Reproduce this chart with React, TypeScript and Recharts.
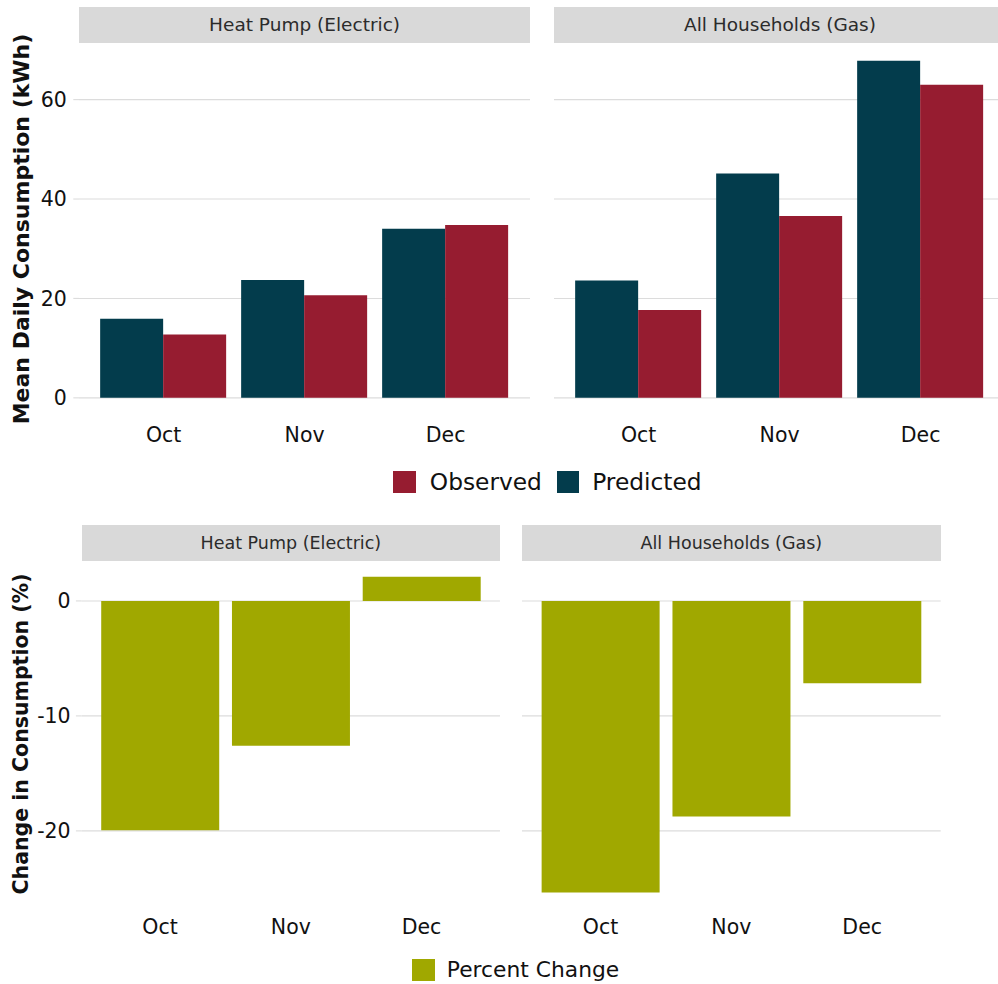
import { BarChart, Bar, XAxis, YAxis, CartesianGrid } from "recharts";

const months = ["Oct", "Nov", "Dec"];
const facets = ["Heat Pump (Electric)", "All Households (Gas)"];

const hpPredicted = [15.9, 23.7, 34.0];
const hpObserved = [12.75, 20.65, 34.75];
const gasPredicted = [23.6, 45.15, 67.8];
const gasObserved = [17.65, 36.6, 63.0];

const hpChange = [-19.95, -12.6, 2.1];
const gasChange = [-25.35, -18.75, -7.15];

const topTicks = [0, 20, 40, 60];
const bottomTicks = [-20, -10, 0];

const PRED = "#033c4c";
const OBS = "#961c30";
const PCT = "#a0a800";
const GRID = "#dcdcdc";
const STRIP = "#d9d9d9";
const FONT = "'DejaVu Sans', sans-serif";

// ggplot-like 5% expansion, bars always include 0
const expand = (vals: number[]): [number, number] => {
  const lo = Math.min(0, ...vals);
  const hi = Math.max(0, ...vals);
  const pad = (hi - lo) * 0.05;
  return [lo - pad, hi + pad];
};

const topDomain = expand([...hpPredicted, ...hpObserved, ...gasPredicted, ...gasObserved]);
const bottomDomain = expand([...hpChange, ...gasChange]);

const consumptionRows = (pred: number[], obs: number[]) =>
  months.map((m, i) => ({ month: m, Predicted: pred[i], Observed: obs[i] }));
const changeRows = (vals: number[]) => months.map((m, i) => ({ month: m, change: vals[i] }));

interface FacetProps {
  left: number;
  top: number;
  panelW: number;
  panelH: number;
  axisW: number;
  showY: boolean;
  domain: [number, number];
  ticks: number[];
  tickMargin: number;
  xMargin: number;
  data: any[];
  keys: { key: string; color: string }[];
}

const Facet = ({ left, top, panelW, panelH, axisW, showY, domain, ticks, tickMargin, xMargin, data, keys }: FacetProps) => {
  const unit = panelW / 3.2;
  const pad = unit * 0.1;
  return (
    <div style={{ position: "absolute", left, top }}>
      <BarChart
        width={panelW + (showY ? axisW : 0)}
        height={panelH + 44}
        data={data}
        margin={{ top: 0, right: 0, bottom: 0, left: 0 }}
        barGap={0}
        barCategoryGap="5%"
      >
        <CartesianGrid vertical={false} syncWithTicks stroke={GRID} strokeWidth={1.1} />
        <XAxis
          dataKey="month"
          interval={0}
          axisLine={false}
          tickLine={false}
          tickSize={6}
          tickMargin={xMargin}
          height={44}
          padding={{ left: pad, right: pad }}
          tick={{ fontSize: 20.5, fill: "#111", fontFamily: FONT }}
        />
        <YAxis
          type="number"
          hide={!showY}
          width={axisW}
          domain={domain}
          allowDataOverflow
          ticks={ticks}
          axisLine={false}
          tickLine={{ stroke: GRID, strokeWidth: 1.1 }}
          tickSize={5.7}
          tickMargin={tickMargin}
          tick={{ fontSize: 20.5, fill: "#111", fontFamily: FONT }}
        />
        {keys.map((k) => (
          <Bar key={k.key} dataKey={k.key} fill={k.color} isAnimationActive={false} />
        ))}
      </BarChart>
    </div>
  );
};

const Strip = ({ left, top, width, height, label, size }: { left: number; top: number; width: number; height: number; label: string; size: number }) => (
  <div
    style={{
      position: "absolute",
      left,
      top,
      width,
      height,
      background: STRIP,
      color: "#2b2b2b",
      fontFamily: FONT,
      fontSize: size,
      display: "flex",
      alignItems: "center",
      justifyContent: "center",
      whiteSpace: "nowrap",
    }}
  >
    {label}
  </div>
);

const LegendItem = ({ left, top, color, label, size, gap }: { left: number; top: number; color: string; label: string; size: number; gap: number }) => (
  <div style={{ position: "absolute", left, top, display: "flex", alignItems: "center", fontFamily: FONT, fontSize: size, color: "#111", whiteSpace: "nowrap" }}>
    <div style={{ width: 22.5, height: 22.5, background: color, marginRight: gap }} />
    <span>{label}</span>
  </div>
);

const consumptionKeys = [
  { key: "Predicted", color: PRED },
  { key: "Observed", color: OBS },
];
const changeKeys = [{ key: "change", color: PCT }];

export default function App() {
  return (
    <div style={{ position: "absolute", left: 0, top: 0, width: 998, height: 984, overflow: "hidden", background: "#fff" }}>
      <svg width={998} height={984} style={{ position: "absolute", left: 0, top: 0 }}>
        <text transform="translate(29,229) rotate(-90)" textAnchor="middle" fontFamily={FONT} fontWeight="bold" fontSize={22} fill="#111">
          Mean Daily Consumption (kWh)
        </text>
        <text transform="translate(28,734) rotate(-90)" textAnchor="middle" fontFamily={FONT} fontWeight="bold" fontSize={20.5} fill="#111">
          Change in Consumption (%)
        </text>
      </svg>

      <Strip left={79} top={6.7} width={451.2} height={36.6} label={facets[0]} size={18.5} />
      <Strip left={554.4} top={6.7} width={451.2} height={36.6} label={facets[1]} size={18.5} />

      <Facet left={0} top={43.8} panelW={451.2} panelH={370.7} axisW={79} showY domain={topDomain} ticks={topTicks} tickMargin={6.5} xMargin={7} data={consumptionRows(hpPredicted, hpObserved)} keys={consumptionKeys} />
      <Facet left={554.4} top={43.8} panelW={451.2} panelH={370.7} axisW={0} showY={false} domain={topDomain} ticks={topTicks} tickMargin={6.5} xMargin={7} data={consumptionRows(gasPredicted, gasObserved)} keys={consumptionKeys} />

      <LegendItem left={393.3} top={468.3} color={OBS} label="Observed" size={23.3} gap={14} />
      <LegendItem left={556.7} top={468.3} color={PRED} label="Predicted" size={23.3} gap={13} />

      <Strip left={81.7} top={525.3} width={418.3} height={35.3} label={facets[0]} size={17.5} />
      <Strip left={522} top={525.3} width={418.7} height={35.3} label={facets[1]} size={17.5} />

      <Facet left={0} top={560.6} panelW={418.4} panelH={347.2} axisW={81.6} showY domain={bottomDomain} ticks={bottomTicks} tickMargin={5.3} xMargin={5} data={changeRows(hpChange)} keys={changeKeys} />
      <Facet left={522} top={560.6} panelW={418.7} panelH={347.2} axisW={0} showY={false} domain={bottomDomain} ticks={bottomTicks} tickMargin={5.3} xMargin={5} data={changeRows(gasChange)} keys={changeKeys} />

      <LegendItem left={412.3} top={957.3} color={PCT} label="Percent Change" size={21.8} gap={12} />
    </div>
  );
}
